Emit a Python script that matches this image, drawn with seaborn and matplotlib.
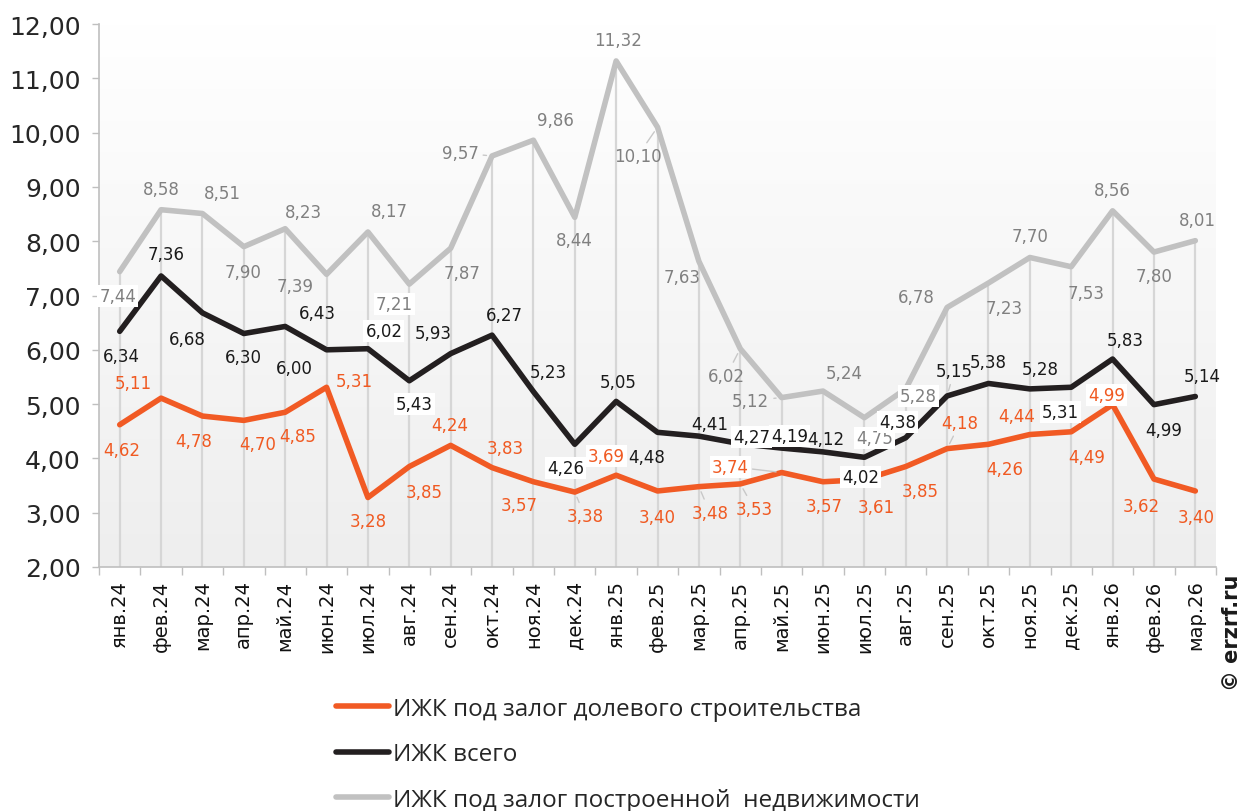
import numpy as np
import pandas as pd
import matplotlib
matplotlib.use("Agg")
import matplotlib.pyplot as plt
import seaborn as sns
from matplotlib.colors import LinearSegmentedColormap
from matplotlib.ticker import FuncFormatter, FixedLocator

# --- data -------------------------------------------------------------
months = ["янв.24", "фев.24", "мар.24", "апр.24", "май.24", "июн.24", "июл.24",
          "авг.24", "сен.24", "окт.24", "ноя.24", "дек.24", "янв.25", "фев.25",
          "мар.25", "апр.25", "май.25", "июн.25", "июл.25", "авг.25", "сен.25",
          "окт.25", "ноя.25", "дек.25", "янв.26", "фев.26", "мар.26"]

shared_equity = [4.62, 5.11, 4.78, 4.70, 4.85, 5.31, 3.28, 3.85, 4.24, 3.83, 3.57,
                 3.38, 3.69, 3.40, 3.48, 3.53, 3.74, 3.57, 3.61, 3.85, 4.18, 4.26,
                 4.44, 4.49, 4.99, 3.62, 3.40]
total = [6.34, 7.36, 6.68, 6.30, 6.43, 6.00, 6.02, 5.43, 5.93, 6.27, 5.23, 4.26,
         5.05, 4.48, 4.41, 4.27, 4.19, 4.12, 4.02, 4.38, 5.15, 5.38, 5.28, 5.31,
         5.83, 4.99, 5.14]
built = [7.44, 8.58, 8.51, 7.90, 8.23, 7.39, 8.17, 7.21, 7.87, 9.57, 9.86, 8.44,
         11.32, 10.10, 7.63, 6.02, 5.12, 5.24, 4.75, 5.28, 6.78, 7.23, 7.70, 7.53,
         8.56, 7.80, 8.01]

series_names = ["ИЖК под залог долевого строительства",
                "ИЖК всего",
                "ИЖК под залог построенной  недвижимости"]

# --- label placement (pixel offsets from the point, y up) -------------
built_off = [(-2, -24), (0, 21), (20, 21), (-1, -25), (18, 17), (-31, -12), (21, 21),
             (-15, -20), (11, -25), (-32, 3), (22, 20), (0, -23), (2, 21), (-20, -29),
             (-17, -16), (-14, -27), (-31, -3), (21, 18), (10, -20), (13, -7), (-31, 10),
             (16, -25), (0, 21), (15, -26), (0, 21), (0, -24), (2, 21)]
total_off = [(2, -25), (5, 22), (-15, -26), (0, -23), (32, 13), (-32, -18), (16, 18),
             (5, -23), (-17, 21), (12, 20), (15, 20), (-9, -24), (2, 19), (-11, -25),
             (11, 12), (11, 7), (8, 12), (3, 13), (-4, -20), (-8, 16), (7, 25),
             (0, 21), (10, 20), (-11, -25), (13, 19), (10, -25), (7, 20)]
shared_off = [(2, -25), (-28, 15), (-9, -25), (14, -24), (13, -24), (28, 6), (0, -24),
              (15, -25), (-1, 20), (13, 20), (-14, -23), (10, -24), (-10, 19), (0, -26),
              (11, -26), (14, -25), (-51, 6), (1, -24), (12, -27), (14, -24), (13, 26),
              (16, -25), (-13, 19), (15, -25), (-6, 10), (-13, -27), (1, -26)]

built_boxed = {0, 7, 18, 19}
total_boxed = {6, 7, 11, 15, 16, 18, 19, 23}
shared_boxed = {12, 16, 24}
built_leader = {9, 13, 15, 16}
total_leader = {20}
shared_leader = {11, 14, 15, 16, 20}

line_colors = ["#f15a24", "#231f20", "#c1c1c1"]
text_colors = ["#f05a22", "#1a1a1a", "#808080"]

# --- frame ------------------------------------------------------------
sns.set_theme(style="white")
plt.rcParams["font.family"] = ["DejaVu Sans"]

fig = plt.figure(figsize=(12.44, 8.12), dpi=100)
ax = fig.add_axes([0.0796, 0.3005, 0.8979, 0.6687])

x = np.arange(len(months))
df = pd.DataFrame({
    "idx": np.tile(x, 3),
    "value": shared_equity + total + built,
    "series": np.repeat(series_names, len(months)),
})

# soft vertical background gradient
grad = np.linspace(0, 1, 256).reshape(-1, 1)
cmap = LinearSegmentedColormap.from_list("bg", ["#ffffff", "#eeeeee"])
ax.imshow(grad, extent=[-0.5, len(months) - 0.5, 2, 12], aspect="auto",
          cmap=cmap, origin="upper", zorder=0)

# drop lines from the highest series down to the axis
tops = np.max(np.vstack([shared_equity, total, built]), axis=0)
ax.vlines(x, 2, tops, color="#d6d6d6", lw=1.6, zorder=1)

sns.lineplot(data=df, x="idx", y="value", hue="series", hue_order=series_names,
             palette=line_colors, linewidth=4, ax=ax, legend=False, sort=False)
for ln, z in zip(ax.lines, [5, 4, 3]):
    ln.set_zorder(z)
    ln.set_solid_capstyle("round")
    ln.set_solid_joinstyle("round")

ax.set_xlim(-0.5, len(months) - 0.5)
ax.set_ylim(2, 12)

# --- value labels -----------------------------------------------------
def put_labels(vals, offs, boxed, leaders, color):
    for i, (v, (dx, dy)) in enumerate(zip(vals, offs)):
        txt = f"{v:.2f}".replace(".", ",")
        kw = {}
        if i in boxed:
            kw["bbox"] = dict(boxstyle="square,pad=0.12", fc="white", ec="none")
        if i in leaders:
            kw["arrowprops"] = dict(arrowstyle="-", color="#c8c8c8", lw=1,
                                    shrinkA=1, shrinkB=4)
        ax.annotate(txt, (i, v), xytext=(dx, dy), textcoords="offset pixels",
                    ha="center", va="center", fontsize=12, color=color,
                    zorder=10, annotation_clip=False, **kw)

put_labels(built, built_off, built_boxed, built_leader, text_colors[2])
put_labels(total, total_off, total_boxed, total_leader, text_colors[1])
put_labels(shared_equity, shared_off, shared_boxed, shared_leader, text_colors[0])

# --- axes styling -----------------------------------------------------
for side in ["top", "right"]:
    ax.spines[side].set_visible(False)
for side in ["left", "bottom"]:
    ax.spines[side].set_color("#bfbfbf")
    ax.spines[side].set_linewidth(1.2)
    ax.spines[side].set_zorder(6)

ax.set_yticks(np.arange(2, 12.01, 1))
ax.yaxis.set_major_formatter(FuncFormatter(lambda v, p: f"{v:.2f}".replace(".", ",")))
ax.tick_params(axis="y", length=5, width=1, color="#bfbfbf", labelsize=18,
               labelcolor="#262626", pad=8, left=True)

ax.set_xticks(x)
ax.set_xticklabels(months, rotation=90)
ax.xaxis.set_minor_locator(FixedLocator(np.arange(-0.5, len(months), 1)))
ax.tick_params(axis="x", which="major", length=0, labelsize=14,
               labelcolor="#111111", pad=9)
ax.tick_params(axis="x", which="minor", length=6, width=1, color="#bfbfbf",
               bottom=True)
ax.set_xlabel("")
ax.set_ylabel("")
ax.grid(False)

# --- legend -----------------------------------------------------------
plt.rcParams["font.family"] = ["Open Sans", "DejaVu Sans"]
leg = fig.legend(handles=list(ax.lines[:3]), labels=series_names,
                 loc="upper left", bbox_to_anchor=(0.262, 0.1527),
                 frameon=False, fontsize=17.5, handlelength=2.2,
                 handletextpad=0.15, labelspacing=0.88, borderaxespad=0)
for h in leg.legend_handles:
    h.set_linewidth(4)
    h.set_solid_capstyle("round")

fig.text(0.990, 0.292, "© erzrf.ru", rotation=90, ha="center", va="top",
         fontsize=15, fontweight="bold", color="#1a1a1a",
         family="DejaVu Sans")

fig.savefig("out.png", dpi=100)
